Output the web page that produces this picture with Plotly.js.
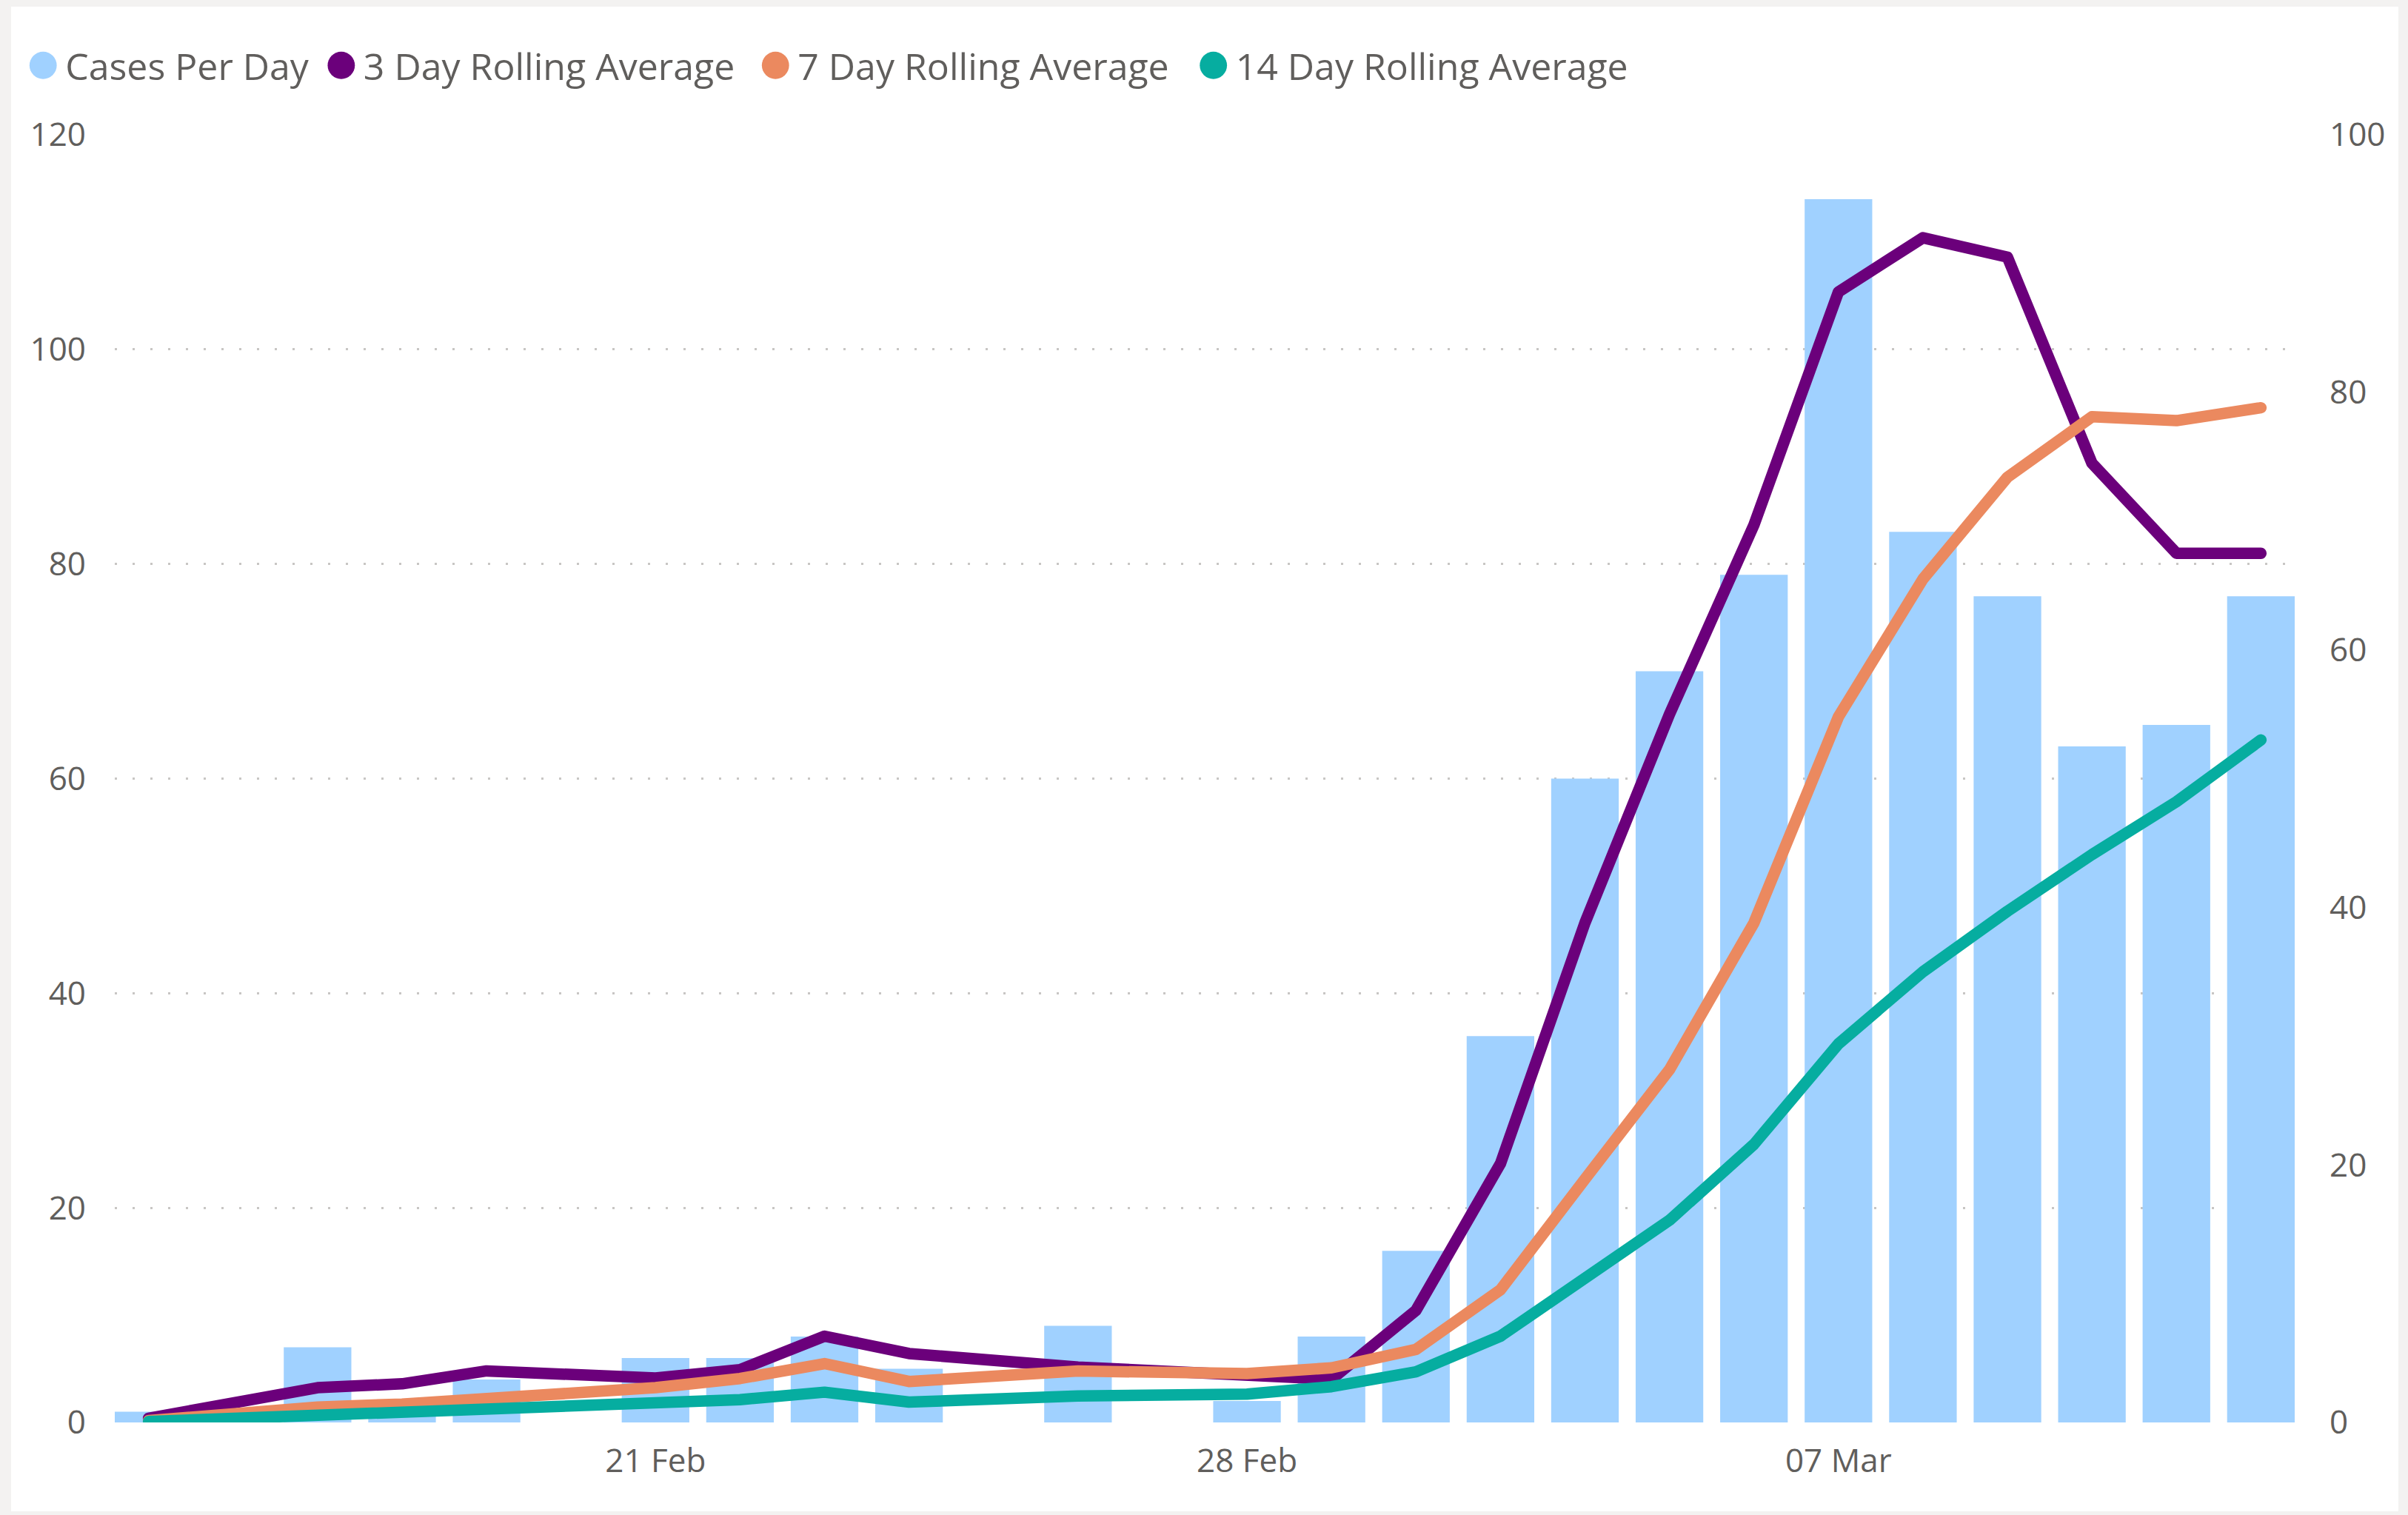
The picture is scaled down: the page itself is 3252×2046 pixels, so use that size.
<!DOCTYPE html>
<html>
<head>
<meta charset="utf-8">
<script src="https://cdn.plot.ly/plotly-3.0.1.min.js"></script>
<style>
  html, body { margin: 0; padding: 0; background: #f3f2f1; width: 3252px; height: 2046px; overflow: hidden; }
  #chart { position: absolute; left: 15px; top: 9px; width: 3224px; height: 2032px; background: #ffffff; }
  .scatterlayer .js-line { stroke-linecap: round; stroke-linejoin: round; }
</style>
</head>
<body>
<div id="chart"></div>
<script>
// ---- data ----
const dates = ['2021-02-15','2021-02-17','2021-02-18','2021-02-19','2021-02-21','2021-02-22','2021-02-23','2021-02-24',
               '2021-02-26','2021-02-28','2021-03-01','2021-03-02','2021-03-03','2021-03-04','2021-03-05','2021-03-06',
               '2021-03-07','2021-03-08','2021-03-09','2021-03-10','2021-03-11','2021-03-12'];
const casesPerDay = [1,7,1,4,6,6,8,5,9,2,8,16,36,60,70,79,114,83,77,63,65,77];
const rolling3  = [0.33,2.7,3.0,4.0,3.45,4.1,6.7,5.35,4.3,3.7,3.35,8.7,20.1,38.8,55.0,69.7,87.8,92.0,90.5,74.5,67.5,67.5];
const rolling7  = [0.14,1.2,1.43,1.87,2.7,3.41,4.57,3.18,3.99,3.8,4.24,5.67,10.3,18.9,27.4,38.8,54.8,65.5,73.4,78.1,77.8,78.8];
const rolling14 = [0.07,0.52,0.8,1.06,1.39,1.77,2.35,1.58,2.06,2.2,2.78,3.93,6.7,11.2,15.7,21.6,29.4,35.0,39.7,44.1,48.2,53.0];
const seriesNames = ['Cases Per Day','3 Day Rolling Average','7 Day Rolling Average','14 Day Rolling Average'];
const xTickStart = '2021-02-21';
const xRange = ['2021-02-14 14:24','2021-03-12 09:36'];

// ---- styles ----
const FONT = 'Segoe UI, Open Sans, sans-serif';
const TEXT = '#605E5C';
const colors = ['#A0D1FF','#6B007B','#EB895F','#06ADA0'];
const DAY = 86400000;
const legendShift = [10, 18, 38, 63];

const traces = [
  { type:'bar', x:dates, y:casesPerDay, name:seriesNames[0], marker:{color:colors[0]},
    width: dates.map(() => 0.8*DAY), yaxis:'y', showlegend:false, hoverinfo:'x+y' },
  { type:'scatter', mode:'lines', x:dates, y:rolling3, name:seriesNames[1], yaxis:'y2',
    line:{color:colors[1], width:15.5}, showlegend:false },
  { type:'scatter', mode:'lines', x:dates, y:rolling7, name:seriesNames[2], yaxis:'y2',
    line:{color:colors[2], width:15.5}, showlegend:false },
  { type:'scatter', mode:'lines', x:dates, y:rolling14, name:seriesNames[3], yaxis:'y2',
    line:{color:colors[3], width:15.5}, showlegend:false }
];
// legend entries (circle symbols, as in the reference)
seriesNames.forEach((n, i) => {
  traces.push({ type:'scatter', mode:'markers', x:[null], y:[null], name:n, yaxis:'y2',
    marker:{color:colors[i], size:16, symbol:'circle'}, showlegend:true, hoverinfo:'skip' });
});

const layout = {
  width: 3224, height: 2032,
  paper_bgcolor:'#ffffff', plot_bgcolor:'#ffffff',
  margin:{l:140, r:140, t:173, b:120, pad:0},
  font:{family:FONT, color:TEXT, size:44},
  showlegend:true,
  legend:{orientation:'h', xref:'container', yref:'container', x:0.001, y:0.961, xanchor:'left', yanchor:'middle',
          font:{family:FONT, size:50, color:TEXT}, itemwidth:50, traceorder:'normal', bgcolor:'rgba(0,0,0,0)'},
  xaxis:{type:'date', range:xRange, tickformat:'%d %b', tick0:xTickStart, dtick:7*DAY,
         showgrid:false, zeroline:false, showline:false, ticks:'', ticklabelstandoff:22,
         tickfont:{family:FONT, size:44, color:TEXT}},
  yaxis:{range:[0,120], dtick:20, showgrid:true, gridcolor:'#c8c6c4', gridwidth:3, griddash:'3px,21px',
         zeroline:false, showline:false, ticks:'', ticklabelstandoff:38,
         tickfont:{family:FONT, size:44, color:TEXT}},
  yaxis2:{range:[0,100], dtick:20, overlaying:'y', side:'right', showgrid:false, zeroline:false,
          showline:false, ticks:'', ticklabelstandoff:46, tickfont:{family:FONT, size:44, color:TEXT}},
  bargap:0.2
};

Plotly.newPlot('chart', traces, layout, {displayModeBar:false, staticPlot:true}).then(gd => {
  // enlarge legend circles to match the reference
  document.querySelectorAll('.legend .legendpoints path.scatterpts').forEach(p => {
    const t = p.getAttribute('transform') || '';
    p.setAttribute('transform', t + ' scale(2.3)');
  });
  // reference spacing between legend entries
  document.querySelectorAll('.legend .traces').forEach((g, i) => {
    const t = g.getAttribute('transform') || '';
    const m = t.match(/translate\(\s*([-\d.]+)[ ,]\s*([-\d.]+)\s*\)/);
    if (m) g.setAttribute('transform', 'translate(' + (parseFloat(m[1]) + legendShift[i]) + ',' + m[2] + ')');
  });
  // do not clip the legend after re-spacing
  document.querySelectorAll('.legend .scrollbox').forEach(s => s.removeAttribute('clip-path'));
  document.querySelectorAll('.legend').forEach(s => s.removeAttribute('clip-path'));
});
</script>
</body>
</html>
